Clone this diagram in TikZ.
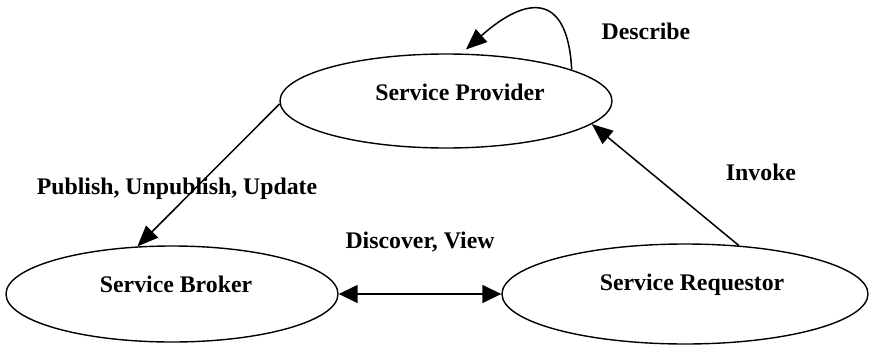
\documentclass[tikz,border=0pt]{standalone}
\usepackage{fontspec}
\setmainfont{Liberation Serif}
\usetikzlibrary{shapes.geometric,arrows.meta}
\begin{document}
\begin{tikzpicture}[x=1pt,y=-1pt,
  role/.style={draw, ellipse, line width=1.4pt, inner sep=0pt},
  txt/.style={font=\fontsize{23.8}{28}\selectfont\bfseries, inner sep=0pt, anchor=base},
  arr/.style={line width=1.5pt, -{Triangle[length=21pt,width=17pt]}},
  dblarr/.style={line width=1.5pt, {Triangle[length=19pt,width=18pt]}-{Triangle[length=19pt,width=18pt]}}]
\useasboundingbox (0,0) rectangle (869,345);

% the three roles
\node[role, minimum width=332pt, minimum height=94pt] (prov) at (446,101) {};
\node[role, minimum width=332pt, minimum height=96pt] (brk) at (172,294) {};
\node[role, minimum width=366pt, minimum height=100pt] (req) at (685,294) {};

\node[txt] (provtxt) at (460,100) {Service Provider};
\node[txt] (brktxt) at (176,292) {Service Broker};
\node[txt] (reqtxt) at (692,290) {Service Requestor};

% interactions
\draw[arr] (prov.181) -- (brk.126);
\draw[arr] (req.42.7) -- (prov.-9);
\draw[dblarr] (brk.east) -- (req.west);
\draw[arr, shorten >=6pt] (prov.14) .. controls +(-4,-78) and +(65,-58) .. (prov.72);

% interaction labels
\node[txt] (publbl) at (177,194) {Publish, Unpublish, Update};
\node[txt] (dsclbl) at (420,248) {Discover, View};
\node[txt] (invlbl) at (761,180) {Invoke};
\node[txt] (deslbl) at (646,40) {Describe};
\end{tikzpicture}
\end{document}
